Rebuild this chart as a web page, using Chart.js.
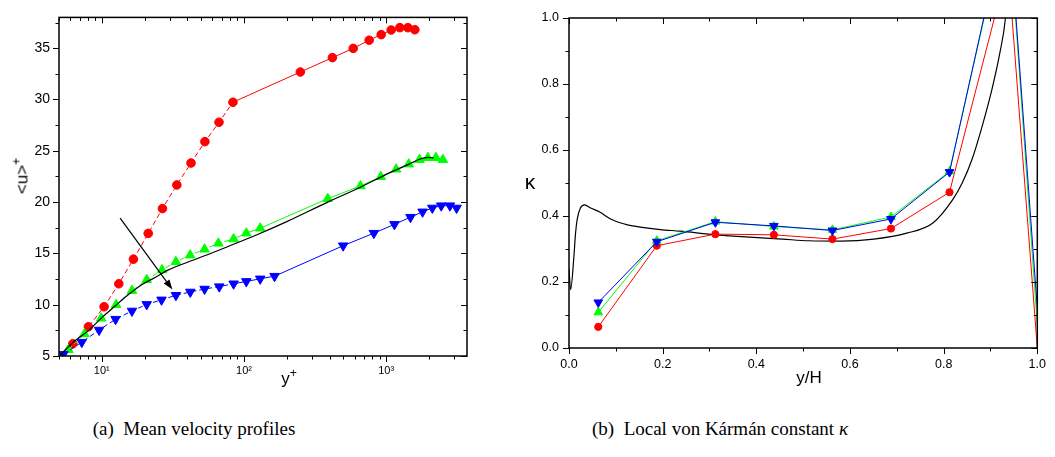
<!DOCTYPE html>
<html><head><meta charset="utf-8">
<script src="https://cdn.jsdelivr.net/npm/chart.js@4.4.1/dist/chart.umd.min.js"></script>
<style>
body{margin:0;background:#fff;}
#wrap{position:relative;width:1055px;height:457px;overflow:hidden;background:#fff;font-family:"Liberation Sans",Arial,sans-serif;}
.box{position:absolute;top:0;}
.t{position:absolute;color:#000;white-space:nowrap;line-height:1;font-family:"Liberation Sans",Arial,sans-serif;}
.sup{font-size:0.72em;position:relative;top:-0.6em;}
.cap{position:absolute;top:418px;transform:translateX(-50%);font-family:"Liberation Serif","DejaVu Serif",serif;font-size:19px;white-space:nowrap;color:#000;}
</style></head><body>
<div id="wrap">
  <div class="box" style="left:0;width:480px;height:400px"><canvas id="c1" width="480" height="400"></canvas></div>
  <div class="box" style="left:520px;width:535px;height:400px"><canvas id="c2" width="535" height="400"></canvas></div>
  <div class="t" style="left:22px;top:176px;font-size:17px;transform:translate(-50%,-50%) rotate(-90deg)">&lt;u&gt;<span class="sup">+</span></div>
  <div class="t" style="left:289px;top:378px;font-size:17px;transform:translate(-50%,-50%)">y<span class="sup">+</span></div>
  <div class="t" style="left:809px;top:377px;font-size:17px;transform:translate(-50%,-50%)">y/H</div>
  <div class="t" style="left:530px;top:181px;font-size:21px;transform:translate(-50%,-50%)">κ</div>
  <div class="cap" style="left:194px">(a)&nbsp; Mean velocity profiles</div>
  <div class="cap" style="left:720px">(b)&nbsp; Local von Kármán constant <i>κ</i></div>
</div>
<script>
// ---------- Panel (a): mean velocity profiles ----------
const redYp   = [6.25, 8.05, 10.38, 13.17, 16.69, 21.2, 26.7, 33.7, 42.4, 53.1, 66.7, 83.6, 249, 418.5, 586, 759, 922, 1084, 1247, 1420, 1590];
const redU    = [6.19, 7.85, 9.8, 12.04, 14.44, 16.95, 19.37, 21.67, 23.81, 25.89, 27.78, 29.73, 32.68, 34.08, 34.98, 35.78, 36.32, 36.77, 37.0, 37.0, 36.8];
const greenYp = [5.82, 7.54, 9.9, 12.6, 16.3, 20.7, 26.5, 33.2, 41.8, 52.8, 66, 84.5, 103.8, 130, 388, 659, 916, 1175, 1442, 1714, 1963, 2235, 2505];
const greenU  = [5.61, 7.15, 8.68, 9.99, 11.37, 12.42, 13.39, 14.18, 14.83, 15.40, 15.98, 16.4, 16.97, 17.45, 20.33, 21.57, 22.47, 23.2, 23.7, 24.13, 24.33, 24.33, 24.13];
const blueYp  = [5.37, 7.23, 9.57, 12.5, 16.3, 20.7, 26.3, 33.2, 41.9, 52.8, 67, 84.5, 103.8, 130, 164, 498, 819, 1143, 1482, 1802, 2110, 2438, 2805, 3126];
const blueU   = [5.16, 6.35, 7.53, 8.59, 9.39, 10.03, 10.47, 10.92, 11.24, 11.53, 11.76, 12.04, 12.27, 12.52, 12.78, 15.75, 16.97, 17.83, 18.53, 19.05, 19.43, 19.65, 19.65, 19.43];
const blackYp = [5.0, 6.5, 8.05, 10, 12.4, 15.4, 19.1, 23.7, 29.4, 40.8, 56.4, 78, 120, 200, 388, 659, 1000, 1175, 1450, 1714, 1963, 2150];
const blackU  = [5.0, 6.51, 7.47, 8.74, 9.87, 10.99, 11.95, 12.65, 13.39, 14.18, 14.92, 15.7, 16.75, 18.1, 20.0, 21.45, 22.7, 23.14, 23.7, 24.17, 24.35, 24.3];
const arrowA  = [[13.45, 18.44], [31.4, 11.47]]; // [y+, u+] start, end
const xTicksA = [5,6,7,8,9,10,20,30,40,50,60,70,80,90,100,200,300,400,500,600,700,800,900,1000,2000,3000];
const xLabelsA = {10:'10¹', 100:'10²', 1000:'10³'};
const yTicksA = [5,7.5,10,12.5,15,17.5,20,22.5,25,27.5,30,32.5,35,37.5];

// ---------- Panel (b): local von Karman constant ----------
const kX     = [0.0625, 0.1875, 0.3125, 0.4375, 0.5625, 0.6875, 0.8125, 0.9375, 1.0];
const kRed   = [0.064, 0.310, 0.345, 0.343, 0.330, 0.362, 0.472, 1.16, 0.0];
const kGreen = [0.108, 0.325, 0.383, 0.368, 0.358, 0.397, 0.535, 1.32, 0.07];
const kBlue  = [0.138, 0.322, 0.381, 0.370, 0.356, 0.391, 0.533, 1.33, 0.12];
const kBlackX = [0.0, 0.0035, 0.0105, 0.014, 0.0174, 0.0243, 0.0335, 0.045, 0.0655, 0.09, 0.125, 0.16, 0.195, 0.237, 0.3165, 0.386, 0.456, 0.512, 0.581, 0.651, 0.721, 0.777, 0.819, 0.8396, 0.8605, 0.882, 0.903, 0.920, 0.932, 0.936];
const kBlackY = [0.24, 0.177, 0.278, 0.348, 0.389, 0.424, 0.434, 0.425, 0.412, 0.39, 0.373, 0.365, 0.359, 0.354, 0.343, 0.336, 0.330, 0.325, 0.324, 0.330, 0.348, 0.379, 0.449, 0.50, 0.571, 0.671, 0.783, 0.894, 1.0, 1.08];
const kTicks = [0,0.1,0.2,0.3,0.4,0.5,0.6,0.7,0.8,0.9,1.0];

const pts = (xs, ys) => xs.map((x, i) => ({x: x, y: ys[i]}));

function frame(isMajorX, isMajorY, extra) {
  return {
    id: 'frame',
    afterDatasetsDraw(chart) {
      const ctx = chart.ctx, a = chart.chartArea;
      const xs = chart.scales.x, ys = chart.scales.y;
      ctx.save();
      ctx.strokeStyle = '#000';
      ctx.lineWidth = 1;
      ctx.beginPath();
      xs.ticks.forEach(t => {
        const p = Math.round(xs.getPixelForValue(t.value)) + 0.5;
        if (p < a.left - 0.5 || p > a.right + 0.5) return;
        const L = isMajorX(t.value) ? 6 : 3.5;
        ctx.moveTo(p, a.bottom); ctx.lineTo(p, a.bottom + L);
        ctx.moveTo(p, a.top); ctx.lineTo(p, a.top + L);
      });
      ys.ticks.forEach(t => {
        const p = Math.round(ys.getPixelForValue(t.value)) + 0.5;
        if (p < a.top - 0.5 || p > a.bottom + 0.5) return;
        const L = isMajorY(t.value) ? 6 : 3.5;
        ctx.moveTo(a.left, p); ctx.lineTo(a.left - L, p);
        ctx.moveTo(a.right, p); ctx.lineTo(a.right - L, p);
      });
      ctx.stroke();
      ctx.lineWidth = 1.5;
      ctx.strokeRect(a.left, a.top, a.right - a.left, a.bottom - a.top);
      if (extra) extra(chart);
      ctx.restore();
    }
  };
}

function drawArrow(chart) {
  const ctx = chart.ctx, xs = chart.scales.x, ys = chart.scales.y;
  const x0 = xs.getPixelForValue(arrowA[0][0]), y0 = ys.getPixelForValue(arrowA[0][1]);
  const x1 = xs.getPixelForValue(arrowA[1][0]), y1 = ys.getPixelForValue(arrowA[1][1]);
  const ang = Math.atan2(y1 - y0, x1 - x0), hl = 10, hw = 3.5;
  const bx = x1 - hl * Math.cos(ang), by = y1 - hl * Math.sin(ang);
  ctx.strokeStyle = '#000'; ctx.fillStyle = '#000'; ctx.lineWidth = 1.2;
  ctx.beginPath(); ctx.moveTo(x0, y0); ctx.lineTo(bx, by); ctx.stroke();
  ctx.beginPath();
  ctx.moveTo(x1, y1);
  ctx.lineTo(bx + hw * Math.sin(ang), by - hw * Math.cos(ang));
  ctx.lineTo(bx - hw * Math.sin(ang), by + hw * Math.cos(ang));
  ctx.closePath(); ctx.fill();
}

const dashNear = ctx => ctx.p0DataIndex < 11 ? [5, 3] : undefined;
const hideAtWall = r => (ctx => (ctx.raw && ctx.raw.x >= 1 ? 0 : r));
const common = {
  responsive: false, animation: false, devicePixelRatio: 1,
  plugins: {legend: {display: false}, tooltip: {enabled: false}},
  elements: {line: {borderWidth: 1, tension: 0}, point: {borderWidth: 1}}
};

new Chart(document.getElementById('c1'), {
  type: 'line',
  data: {datasets: [
    {data: pts(blackYp, blackU), borderColor: '#000', borderWidth: 1.2, pointRadius: 0, cubicInterpolationMode: 'monotone'},
    {data: pts(blueYp, blueU), borderColor: '#0000ff', backgroundColor: '#0000ff', pointStyle: 'triangle', rotation: 180, pointRadius: 5.5, segment: {borderDash: dashNear}},
    {data: pts(greenYp, greenU), borderColor: '#00ff00', backgroundColor: '#00ff00', pointStyle: 'triangle', pointRadius: 5.5, segment: {borderDash: dashNear}},
    {data: pts(redYp, redU), borderColor: '#ff0000', backgroundColor: '#ff0000', pointStyle: 'circle', pointRadius: 4.3, segment: {borderDash: dashNear}}
  ]},
  options: Object.assign({}, common, {
    layout: {padding: {left: 0, top: 12, right: 13, bottom: 0}},
    scales: {
      x: {type: 'logarithmic', min: 5, max: 3700,
        afterBuildTicks: s => { s.ticks = xTicksA.map(v => ({value: v})); },
        afterFit: s => { s.height = 44; },
        grid: {display: false, drawTicks: false}, border: {display: false},
        ticks: {autoSkip: false, maxRotation: 0, padding: 8.5, color: '#000', font: {family: 'Liberation Sans', size: 11},
          callback: v => xLabelsA[v] || ''}
      },
      y: {type: 'linear', min: 5, max: 38,
        afterBuildTicks: s => { s.ticks = yTicksA.map(v => ({value: v})); },
        afterFit: s => { s.width = 59; },
        grid: {display: false, drawTicks: false}, border: {display: false},
        ticks: {autoSkip: false, padding: 9, color: '#000', font: {family: 'Liberation Sans', size: 14},
          callback: v => (v % 5 === 0 ? String(v) : '')}
      }
    }
  }),
  plugins: [frame(v => xLabelsA[v] !== undefined, v => v % 5 === 0, drawArrow)]
});

const isEven = v => Math.round(v * 10) % 2 === 0;
new Chart(document.getElementById('c2'), {
  type: 'line',
  data: {datasets: [
    {data: pts(kX, kBlue), borderColor: '#0000ff', backgroundColor: '#0000ff', pointStyle: 'triangle', rotation: 180, pointRadius: hideAtWall(5)},
    {data: pts(kX, kGreen), borderColor: '#00ff00', backgroundColor: '#00ff00', pointStyle: 'triangle', pointRadius: hideAtWall(5)},
    {data: pts(kX, kRed), borderColor: '#ff0000', backgroundColor: '#ff0000', pointStyle: 'circle', pointRadius: hideAtWall(3.6)},
    {data: pts(kBlackX, kBlackY), borderColor: '#000', borderWidth: 1.2, pointRadius: 0, cubicInterpolationMode: 'monotone'}
  ]},
  options: Object.assign({}, common, {
    layout: {padding: {left: 0, top: 18, right: 8, bottom: 0}},
    scales: {
      x: {type: 'linear', min: 0, max: 1,
        afterBuildTicks: s => { s.ticks = kTicks.map(v => ({value: v})); },
        afterFit: s => { s.height = 52; },
        grid: {display: false, drawTicks: false}, border: {display: false},
        ticks: {autoSkip: false, maxRotation: 0, padding: 9, color: '#000', font: {family: 'Liberation Sans', size: 12.5},
          callback: v => (isEven(v) ? v.toFixed(1) : '')}
      },
      y: {type: 'linear', min: 0, max: 1,
        afterBuildTicks: s => { s.ticks = kTicks.map(v => ({value: v})); },
        afterFit: s => { s.width = 49; },
        grid: {display: false, drawTicks: false}, border: {display: false},
        ticks: {autoSkip: false, padding: 10, color: '#000', font: {family: 'Liberation Sans', size: 12.5},
          callback: v => (isEven(v) ? v.toFixed(1) : '')}
      }
    }
  }),
  plugins: [frame(isEven, isEven, null)]
});
</script>
</body></html>
